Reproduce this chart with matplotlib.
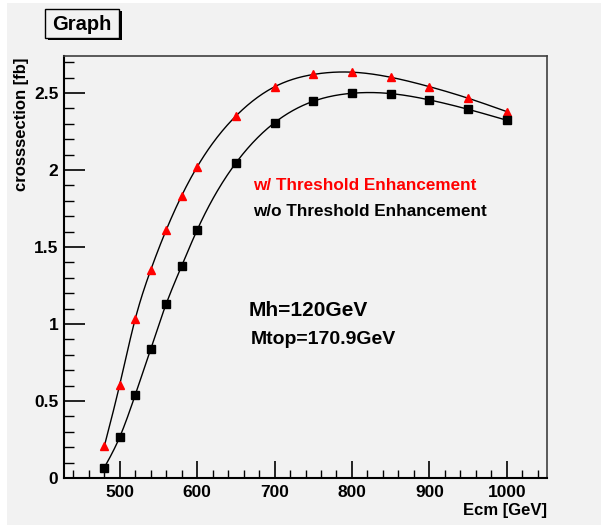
import numpy as np
import matplotlib.pyplot as plt
from matplotlib.patches import Rectangle
from matplotlib.ticker import MultipleLocator

plt.rcParams['font.family'] = ['Liberation Sans', 'DejaVu Sans']
plt.rcParams['font.weight'] = 'bold'

# data
ecm = [480, 500, 520, 540, 560, 580, 600, 650, 700, 750, 800, 850, 900, 950, 1000]
xs_with = [0.205, 0.606, 1.032, 1.35, 1.61, 1.833, 2.02, 2.35, 2.54, 2.62, 2.635, 2.602, 2.541, 2.466, 2.379]
xs_without = [0.067, 0.266, 0.539, 0.838, 1.13, 1.377, 1.61, 2.045, 2.307, 2.446, 2.498, 2.496, 2.455, 2.394, 2.323]


def spline(x, y, n=400):
    # natural cubic spline through the points (like ROOT's "C" draw option)
    x = np.asarray(x, float)
    y = np.asarray(y, float)
    k = len(x)
    h = np.diff(x)
    A = np.zeros((k, k))
    b = np.zeros(k)
    A[0, 0] = 1
    A[-1, -1] = 1
    for i in range(1, k - 1):
        A[i, i - 1] = h[i - 1]
        A[i, i] = 2 * (h[i - 1] + h[i])
        A[i, i + 1] = h[i]
        b[i] = 6 * ((y[i + 1] - y[i]) / h[i] - (y[i] - y[i - 1]) / h[i - 1])
    M = np.linalg.solve(A, b)
    xx = np.linspace(x[0], x[-1], n)
    j = np.clip(np.searchsorted(x, xx) - 1, 0, k - 2)
    t0 = x[j + 1] - xx
    t1 = xx - x[j]
    hj = h[j]
    yy = (M[j] * t0**3 + M[j + 1] * t1**3) / (6 * hj) \
        + (y[j] / hj - M[j] * hj / 6) * t0 + (y[j + 1] / hj - M[j + 1] * hj / 6) * t1
    return xx, yy


W, H = 603, 525
bg = '#f2f2f2'
fig = plt.figure(figsize=(W / 100, H / 100), dpi=100, facecolor='white')
# canvas fill (thin white margin on the left/top like the reference)
fig.patches.append(Rectangle((7 / W, 0), (601 - 7) / W, 1 - 3 / H,
                             transform=fig.transFigure, facecolor=bg,
                             edgecolor='none', zorder=-5))

ax = fig.add_axes([64 / W, 1 - 478 / H, (547 - 64) / W, (478 - 56) / H])
ax.set_facecolor(bg)
ax.set_zorder(2)

for ys, col, mk in [(xs_with, 'red', '^'), (xs_without, 'black', 's')]:
    cx, cy = spline(ecm, ys)
    ax.plot(cx, cy, color='black', lw=1.0)
    ax.plot(ecm, ys, ls='none', marker=mk, color=col, ms=6 if mk == '^' else 5.5)

ax.set_xlim(428, 1052)
ax.set_ylim(0, 2.74)
ax.xaxis.set_major_locator(MultipleLocator(100))
ax.xaxis.set_minor_locator(MultipleLocator(20))
ax.yaxis.set_major_locator(MultipleLocator(0.5))
ax.yaxis.set_minor_locator(MultipleLocator(0.1))
ax.yaxis.set_major_formatter(plt.FuncFormatter(lambda v, p: '%g' % v))
ax.tick_params(which='both', direction='in', top=False, right=False, labelsize=12.5)
ax.tick_params(axis='x', which='major', length=12, width=1.2, pad=5)
ax.tick_params(axis='x', which='minor', length=6, width=1)
ax.tick_params(axis='y', which='major', length=15, width=1.2, pad=4)
ax.tick_params(axis='y', which='minor', length=7, width=1)

for s in ['left', 'bottom']:
    ax.spines[s].set_linewidth(1.5)
    ax.spines[s].set_color('black')
for s in ['top', 'right']:
    ax.spines[s].set_linewidth(1.2)
    ax.spines[s].set_color('#404040')

fig.text(547 / W, 1 - 511 / H, 'Ecm [GeV]', ha='right', va='center', fontsize=12)
fig.text(22 / W, 1 - 58 / H, 'crosssection [fb]', ha='center', va='top',
         rotation=90, fontsize=12)

fig.text(253 / W, 1 - 186 / H, 'w/ Threshold Enhancement', color='red',
         ha='left', va='center', fontsize=12.3, zorder=5)
fig.text(253 / W, 1 - 212 / H, 'w/o Threshold Enhancement', color='black',
         ha='left', va='center', fontsize=12.3, zorder=5)
fig.text(249 / W, 1 - 310 / H, 'Mh=120GeV', ha='left', va='center', fontsize=15, zorder=5)
fig.text(251 / W, 1 - 340 / H, 'Mtop=170.9GeV', ha='left', va='center', fontsize=14, zorder=5)

# title box with shadow
fig.patches.append(Rectangle((48 / W, 1 - 40 / H), 74 / W, 29 / H,
                             transform=fig.transFigure, facecolor='black',
                             edgecolor='none', zorder=1))
fig.patches.append(Rectangle((45 / W, 1 - 38 / H), 74 / W, 29 / H,
                             transform=fig.transFigure, facecolor=bg,
                             edgecolor='black', lw=1, zorder=2))
fig.text(82 / W, 1 - 24 / H, 'Graph', ha='center', va='center', fontsize=14.5, zorder=3)

fig.savefig('out.png', dpi=100, facecolor='white')
